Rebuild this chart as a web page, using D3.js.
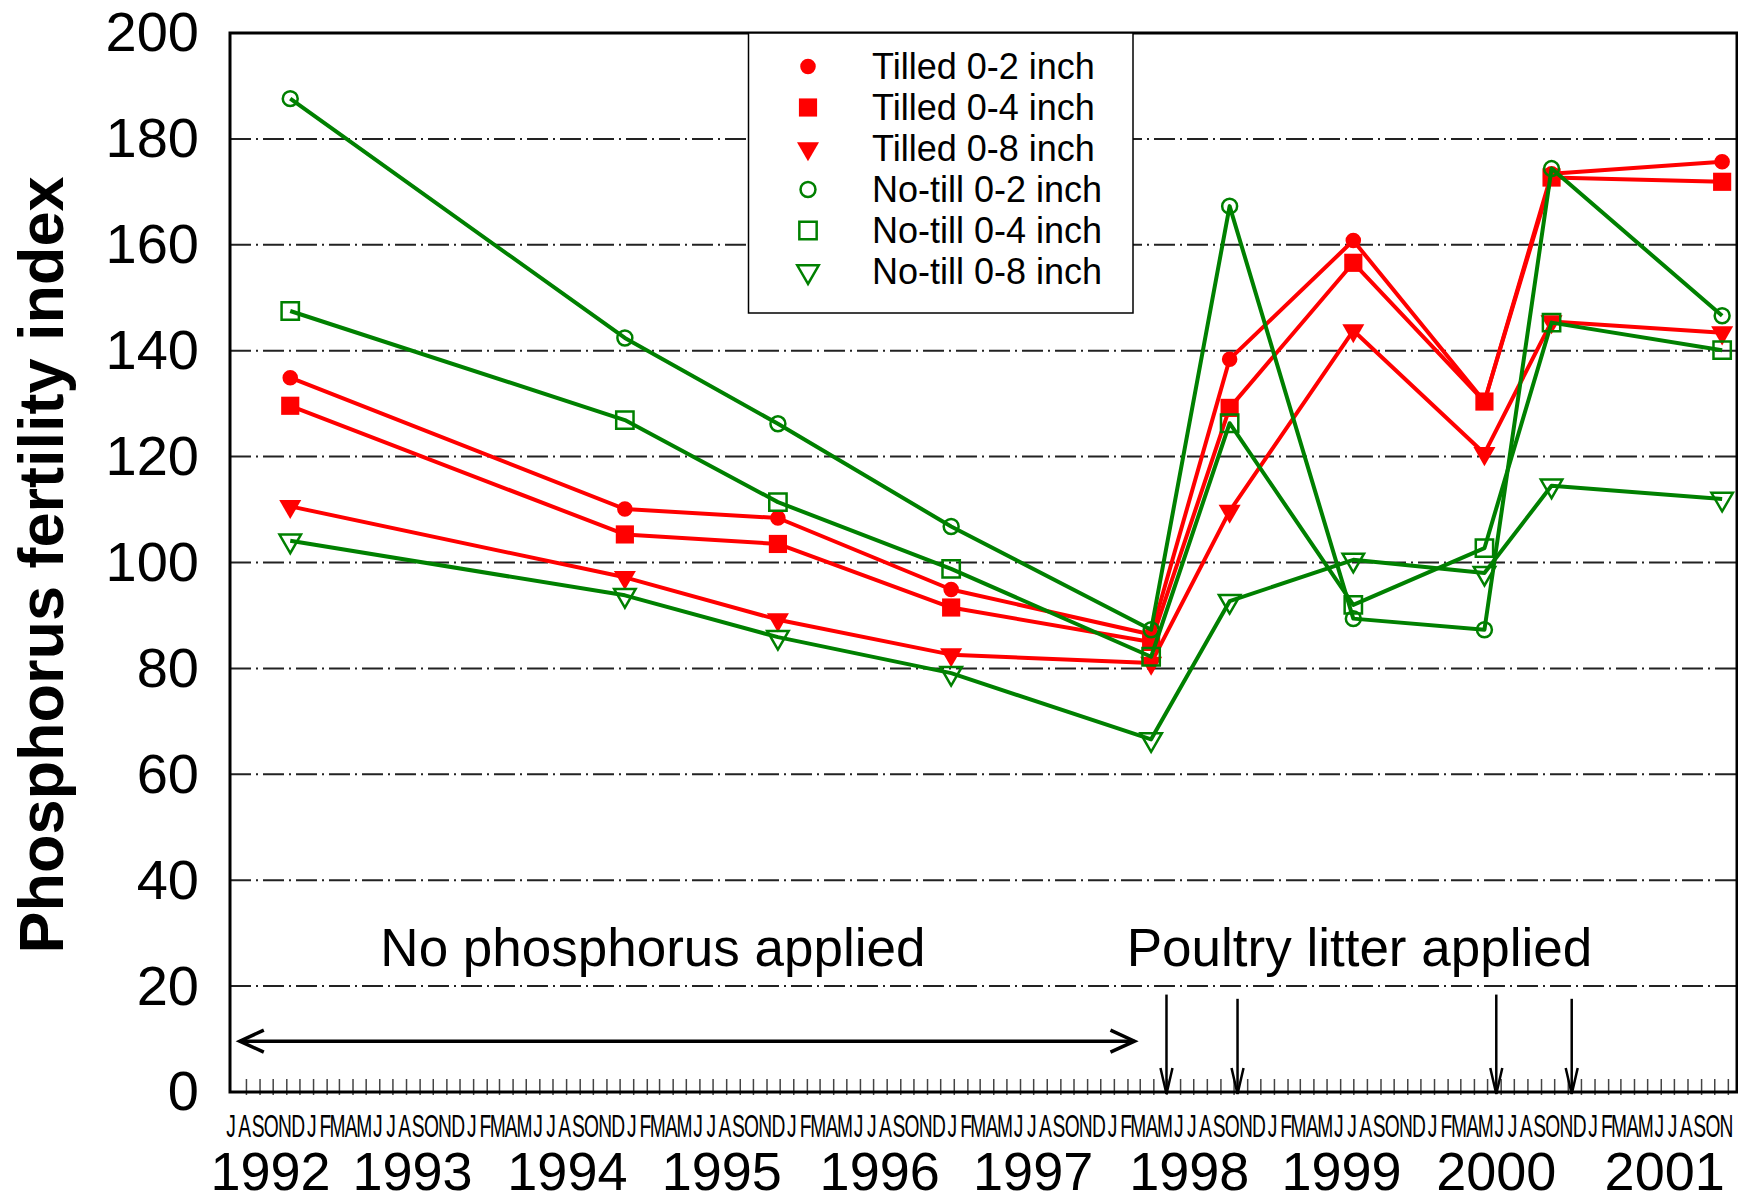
<!DOCTYPE html>
<html>
<head>
<meta charset="utf-8">
<script src="https://cdn.jsdelivr.net/npm/d3@7"></script>
<style>
  body { margin: 0; background: #fff; }
  svg { display: block; font-family: "Liberation Sans", Arial, sans-serif; }
</style>
</head>
<body>
<svg id="chart" width="1738" height="1202"></svg>
<script>
"use strict";

// sampling dates
const sampleDates = ["1992-11-10", "1994-12-13", "1995-11-27", "1996-12-26", "1998-03-27",
  "1998-09-22", "1999-07-01", "2000-04-25", "2000-09-25", "2001-10-19"];

const tilled02 = [134.9, 110.1, 108.4, 94.9, 86.4, 138.4, 160.8, 130.4, 173.4, 175.7];
const tilled04 = [129.6, 105.3, 103.5, 91.5, 85.0, 129.2, 156.6, 130.4, 172.7, 171.9];
const tilled08 = [110.6, 97.2, 89.2, 82.6, 81.0, 109.7, 143.8, 120.6, 145.5, 143.4];
const notill02 = [187.6, 142.4, 126.2, 106.8, 87.3, 167.3, 89.4, 87.3, 174.4, 146.6];
const notill04 = [147.5, 126.9, 111.4, 98.8, 82.2, 126.3, 92.0, 102.7, 145.3, 140.1];
const notill08 = [104.1, 93.8, 85.9, 79.1, 66.6, 92.7, 100.5, 98.0, 114.5, 112.0];

const seriesNames = ["Tilled 0-2 inch", "Tilled 0-4 inch", "Tilled 0-8 inch",
  "No-till 0-2 inch", "No-till 0-4 inch", "No-till 0-8 inch"];

const yTicks = [0, 20, 40, 60, 80, 100, 120, 140, 160, 180, 200];
const yearLabels = ["1992", "1993", "1994", "1995", "1996", "1997", "1998", "1999", "2000", "2001"];
const yearLabelDates = ["1992-09-26", "1993-08-16", "1994-08-04", "1995-07-22", "1996-07-16",
  "1997-07-01", "1998-06-22", "1999-06-04", "2000-05-22", "2001-06-10"];

// poultry litter applications (down arrows)
const litterDates = ["1998-05-01", "1998-10-10", "2000-05-22", "2000-11-10"];

const parse = d3.utcParse("%Y-%m-%d");
const svg = d3.select("#chart");

const plotLeft = 230, plotRight = 1737, plotTop = 33, plotBottom = 1092;
const axisStart = parse("1992-07-01"), axisEnd = parse("2001-12-01");

const x = d3.scaleUtc().domain([axisStart, axisEnd]).range([232.35, 1741]);
const y = d3.scaleLinear().domain([0, 200]).range([plotBottom, plotTop]);

const red = "#ff0000", green = "#008000";
const series = [
  { name: seriesNames[0], values: tilled02, color: red, symbol: d3.symbolCircle, size: 190, filled: true, rot: 0 },
  { name: seriesNames[1], values: tilled04, color: red, symbol: d3.symbolSquare, size: 330, filled: true, rot: 0 },
  { name: seriesNames[2], values: tilled08, color: red, symbol: d3.symbolTriangle, size: 210, filled: true, rot: 180 },
  { name: seriesNames[3], values: notill02, color: green, symbol: d3.symbolCircle, size: 175, filled: false, rot: 0 },
  { name: seriesNames[4], values: notill04, color: green, symbol: d3.symbolSquare, size: 300, filled: false, rot: 0 },
  { name: seriesNames[5], values: notill08, color: green, symbol: d3.symbolTriangle, size: 200, filled: false, rot: 180 },
];

// gridlines
svg.append("g")
  .selectAll("line")
  .data(yTicks.filter(d => d > 0 && d < 200))
  .join("line")
  .attr("x1", plotLeft).attr("x2", plotRight)
  .attr("y1", d => y(d)).attr("y2", d => y(d))
  .attr("stroke", "#222").attr("stroke-width", 2)
  .attr("stroke-dasharray", "21,5,2,5");

// y axis labels
const yAxis = svg.append("g")
  .attr("transform", `translate(${plotLeft},0)`)
  .call(d3.axisLeft(y).tickValues(yTicks).tickSize(0).tickPadding(31));
yAxis.select(".domain").remove();
yAxis.selectAll("text")
  .attr("font-size", 56).attr("font-family", "Liberation Sans, Arial, sans-serif").attr("fill", "#000");

// month ticks, pointing up from the bottom of the frame
const months = d3.utcMonth.range(axisStart, axisEnd);
const tickAxis = svg.append("g")
  .attr("transform", `translate(0,${plotBottom + 3})`)
  .call(d3.axisBottom(x).tickValues(months.slice(1)).tickSizeInner(-16).tickSizeOuter(0).tickFormat(""));
tickAxis.select(".domain").remove();
tickAxis.selectAll("line").attr("stroke", "#444").attr("stroke-width", 1.5);

// month letters, squeezed like the original
const monthAxis = svg.append("g")
  .attr("transform", `translate(0,${plotBottom})`)
  .call(d3.axisBottom(x).tickValues(months).tickSize(0).tickPadding(23)
    .tickFormat(d => d3.utcFormat("%b")(d)[0]));
monthAxis.select(".domain").remove();
monthAxis.selectAll("text")
  .attr("font-size", 31).attr("font-family", "Liberation Sans, Arial, sans-serif").attr("fill", "#000")
  .attr("x", -3)
  .attr("transform", "scale(0.62,1)");

// year labels
svg.append("g")
  .selectAll("text")
  .data(yearLabels)
  .join("text")
  .attr("x", (d, i) => x(parse(yearLabelDates[i])))
  .attr("y", 1190)
  .attr("text-anchor", "middle")
  .attr("font-size", 54)
  .text(d => d);

// axis title
svg.append("text")
  .attr("transform", "translate(63,565) rotate(-90)")
  .attr("text-anchor", "middle")
  .attr("font-size", 63)
  .attr("font-weight", "bold")
  .text("Phosphorus fertility index");

// annotations
svg.append("text")
  .attr("x", x(parse("1995-02-15"))).attr("y", y(23.8))
  .attr("text-anchor", "middle").attr("font-size", 53)
  .text("No phosphorus applied");
svg.append("text")
  .attr("x", x(parse("1999-07-15"))).attr("y", y(23.8))
  .attr("text-anchor", "middle").attr("font-size", 53)
  .text("Poultry litter applied");

// double-headed arrow for the no-P period
const arrowY = y(9.6);
const ax1 = x(parse("1992-07-18")), ax2 = x(parse("1998-02-17"));
const arrowG = svg.append("g").attr("stroke", "#000").attr("stroke-width", 3.5).attr("fill", "none");
arrowG.append("line").attr("x1", ax1).attr("x2", ax2).attr("y1", arrowY).attr("y2", arrowY);
arrowG.append("path").attr("d", `M${ax1 + 24},${arrowY - 11}L${ax1},${arrowY}L${ax1 + 24},${arrowY + 11}`);
arrowG.append("path").attr("d", `M${ax2 - 24},${arrowY - 11}L${ax2},${arrowY}L${ax2 - 24},${arrowY + 11}`);

// litter application arrows
const downG = svg.append("g").attr("stroke", "#000").attr("stroke-width", 2.5).attr("fill", "none");
litterDates.forEach((d, i) => {
  const ax = x(parse(d));
  const yTop = y(i % 2 ? 17.6 : 18.4);
  downG.append("line").attr("x1", ax).attr("x2", ax).attr("y1", yTop).attr("y2", plotBottom + 2);
  downG.append("path").attr("d", `M${ax - 6},${plotBottom - 24}L${ax},${plotBottom + 2}L${ax + 6},${plotBottom - 24}`);
});

// data lines and markers
const line = d3.line()
  .x((d, i) => x(parse(sampleDates[i])))
  .y(d => y(d));

series.forEach(s => {
  const g = svg.append("g");
  g.append("path")
    .attr("d", line(s.values))
    .attr("fill", "none")
    .attr("stroke", s.color)
    .attr("stroke-width", 4)
    .attr("stroke-linejoin", "round");
  g.selectAll("path.mark")
    .data(s.values)
    .join("path")
    .attr("class", "mark")
    .attr("d", d3.symbol(s.symbol, s.size))
    .attr("transform", (d, i) => `translate(${x(parse(sampleDates[i]))},${y(d)}) rotate(${s.rot})`)
    .attr("fill", s.filled ? s.color : "none")
    .attr("stroke", s.color)
    .attr("stroke-width", s.filled ? 0 : 2.5);
});

// frame
svg.append("rect")
  .attr("x", plotLeft).attr("y", plotTop)
  .attr("width", plotRight - plotLeft).attr("height", plotBottom - plotTop)
  .attr("fill", "none").attr("stroke", "#000").attr("stroke-width", 3);

// legend
const legend = svg.append("g");
legend.append("rect")
  .attr("x", 748.5).attr("y", plotTop)
  .attr("width", 384.5).attr("height", 280)
  .attr("fill", "#fff").attr("stroke", "#000").attr("stroke-width", 1.5);
const rows = legend.selectAll("g.row")
  .data(series)
  .join("g")
  .attr("class", "row")
  .attr("transform", (d, i) => `translate(0,${66.5 + i * 41})`);
rows.append("path")
  .attr("d", d => d3.symbol(d.symbol, d.size)())
  .attr("transform", d => `translate(808,0) rotate(${d.rot})`)
  .attr("fill", d => d.filled ? d.color : "none")
  .attr("stroke", d => d.color)
  .attr("stroke-width", d => d.filled ? 0 : 2.5);
rows.append("text")
  .attr("x", 872)
  .attr("dy", "0.35em")
  .attr("font-size", 36)
  .text(d => d.name);
</script>
</body>
</html>
